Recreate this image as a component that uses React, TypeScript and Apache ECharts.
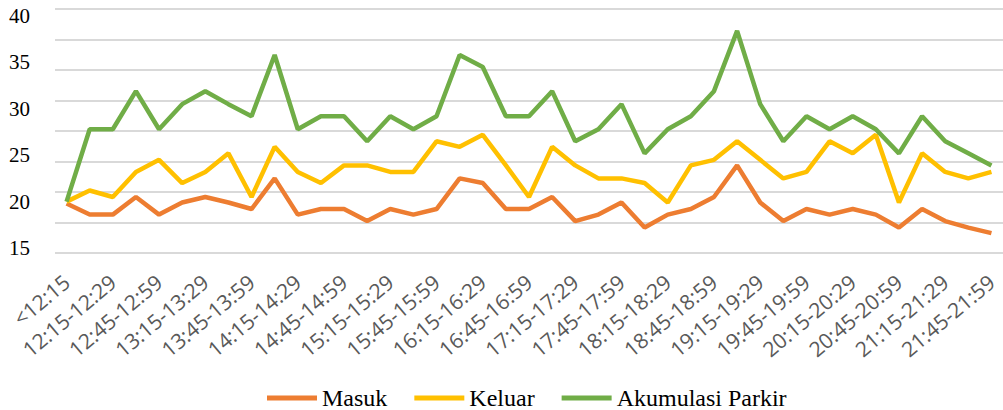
import React, { useEffect, useRef } from "react";
import * as echarts from "echarts";

const categories: string[] = [
  "<12:15", "12:00-12:14", "12:15-12:29", "12:30-12:44", "12:45-12:59",
  "13:00-13:14", "13:15-13:29", "13:30-13:44", "13:45-13:59",
  "14:00-14:14", "14:15-14:29", "14:30-14:44", "14:45-14:59",
  "15:00-15:14", "15:15-15:29", "15:30-15:44", "15:45-15:59",
  "16:00-16:14", "16:15-16:29", "16:30-16:44", "16:45-16:59",
  "17:00-17:14", "17:15-17:29", "17:30-17:44", "17:45-17:59",
  "18:00-18:14", "18:15-18:29", "18:30-18:44", "18:45-18:59",
  "19:00-19:14", "19:15-19:29", "19:30-19:44", "19:45-19:59",
  "20:00-20:14", "20:15-20:29", "20:30-20:44", "20:45-20:59",
  "21:00-21:14", "21:15-21:29", "21:30-21:44", "21:45-21:59",
];

const masuk: number[] = [
  19.8, 18.6, 18.6, 20.5, 18.6, 19.9, 20.5, 19.9, 19.2, 22.5,
  18.6, 19.2, 19.2, 17.9, 19.2, 18.6, 19.2, 22.5, 22.0, 19.2,
  19.2, 20.5, 17.9, 18.6, 19.9, 17.2, 18.6, 19.2, 20.5, 23.9,
  19.9, 17.9, 19.2, 18.6, 19.2, 18.6, 17.2, 19.2, 17.9, 17.2,
  16.6,
];

const keluar: number[] = [
  20.0, 21.2, 20.5, 23.2, 24.5, 22.0, 23.2, 25.2, 20.5, 25.9,
  23.2, 22.0, 23.9, 23.9, 23.2, 23.2, 26.5, 25.9, 27.2, 23.9,
  20.5, 25.9, 23.9, 22.5, 22.5, 22.0, 19.9, 23.9, 24.5, 26.5,
  24.5, 22.5, 23.2, 26.5, 25.2, 27.2, 19.9, 25.2, 23.2, 22.5,
  23.2,
];

const akumulasi: number[] = [
  20.0, 27.8, 27.8, 31.9, 27.8, 30.5, 31.9, 30.5, 29.2, 35.8,
  27.8, 29.2, 29.2, 26.5, 29.2, 27.8, 29.2, 35.8, 34.5, 29.2,
  29.2, 31.9, 26.5, 27.8, 30.5, 25.2, 27.8, 29.2, 31.9, 38.4,
  30.5, 26.5, 29.2, 27.8, 29.2, 27.8, 25.2, 29.2, 26.5, 25.2,
  23.9,
];

const seriesNames = ["Masuk", "Keluar", "Akumulasi Parkir"];
const seriesColors = ["#ED7D31", "#FFC000", "#70AD47"];

export default function App() {
  const ref = useRef<HTMLDivElement>(null);

  useEffect(() => {
    if (!ref.current) return;
    const chart = echarts.init(ref.current, null, { renderer: "svg" });
    const values = [masuk, keluar, akumulasi];
    chart.setOption({
      animation: false,
      backgroundColor: "#ffffff",
      grid: [
        { left: 55, top: 16, width: 953, height: 232 },
        { left: 55, top: 9, width: 953, height: 244 },
      ],
      legend: {
        left: 262,
        top: 381,
        icon: "rect",
        itemWidth: 50,
        itemHeight: 5,
        itemGap: 27,
        data: seriesNames,
        textStyle: {
          fontFamily: "'Liberation Serif', 'Times New Roman', serif",
          fontSize: 24,
          color: "#000000",
        },
      },
      xAxis: [
        {
          type: "category",
          gridIndex: 0,
          data: categories,
          boundaryGap: true,
          axisLine: { show: false },
          axisTick: { show: false },
          splitLine: { show: false },
          axisLabel: {
            interval: 1,
            rotate: 40,
            margin: 31,
            color: "#595959",
            fontFamily: "'Open Sans', sans-serif",
            fontSize: 21,
          },
        },
        {
          type: "value",
          gridIndex: 1,
          min: 0,
          max: 1,
          show: false,
        },
      ],
      yAxis: [
        {
          type: "value",
          gridIndex: 0,
          min: 15,
          max: 40,
          interval: 5,
          axisLine: { show: false },
          axisTick: { show: false },
          splitLine: { show: false },
          axisLabel: {
            margin: 25,
            color: "#000000",
            fontFamily: "'Liberation Serif', 'Times New Roman', serif",
            fontSize: 21,
          },
        },
        {
          type: "value",
          gridIndex: 1,
          min: 0,
          max: 40,
          interval: 5,
          axisLine: { show: false },
          axisTick: { show: false },
          axisLabel: { show: false },
          splitLine: { show: true, lineStyle: { color: "#D9D9D9", width: 2 } },
        },
      ],
      series: seriesNames.map((name, i) => ({
        name,
        type: "line",
        xAxisIndex: 0,
        yAxisIndex: 0,
        data: values[i],
        symbol: "none",
        color: seriesColors[i],
        lineStyle: { color: seriesColors[i], width: 4.5 },
      })),
    });
    return () => chart.dispose();
  }, []);

  return (
    <div
      ref={ref}
      style={{ position: "fixed", left: 0, top: 0, width: 1003, height: 410 }}
    />
  );
}
